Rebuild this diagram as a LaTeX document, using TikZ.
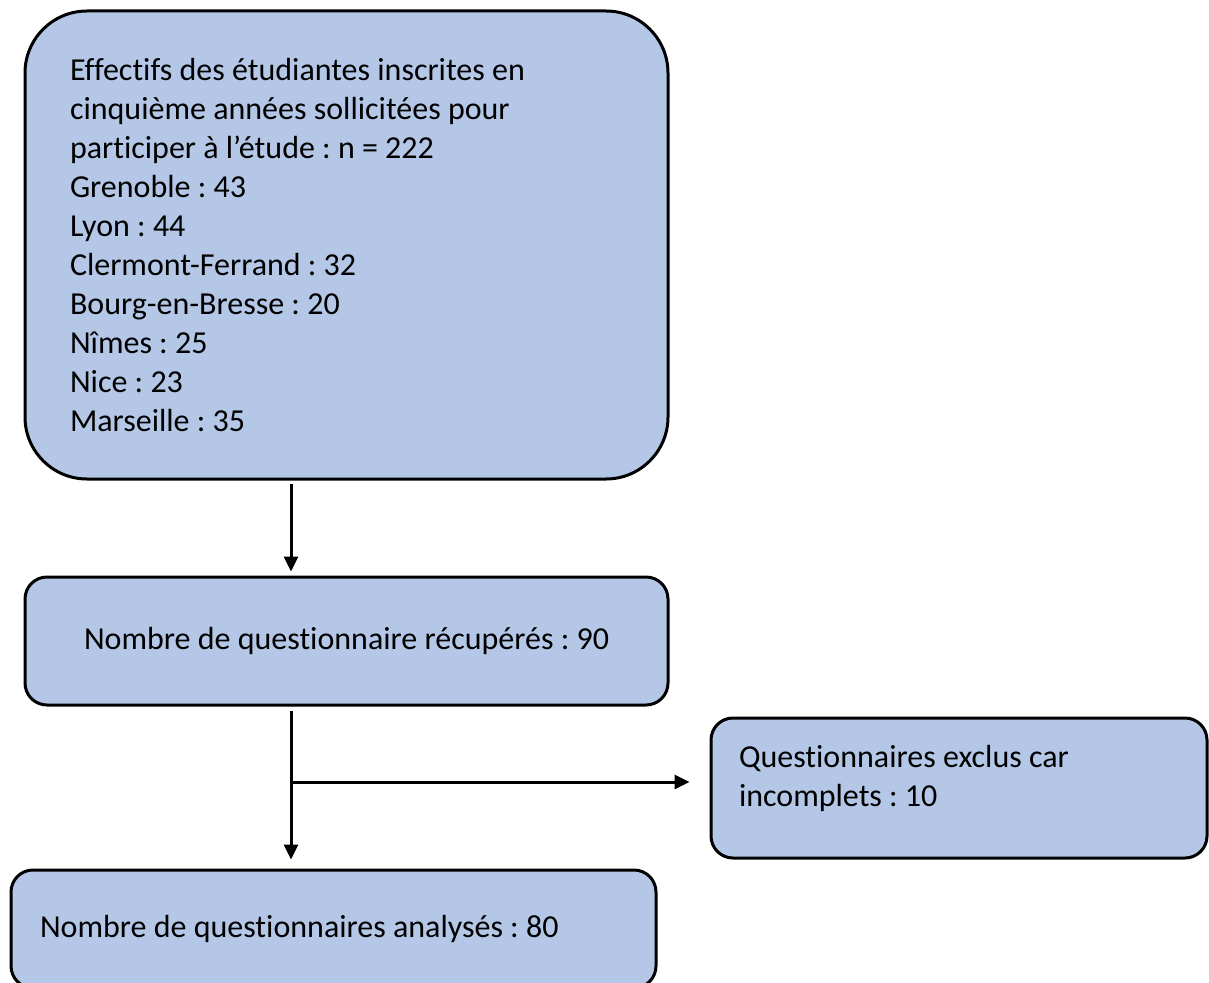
\documentclass[tikz,border=0pt]{standalone}
\usepackage{fontspec}
\setmainfont{Carlito}[Ligatures=NoCommon]
\frenchspacing
\usetikzlibrary{arrows.meta,calc}
\definecolor{boxblue}{RGB}{180,199,231}
\tikzset{
  flowbox/.style={draw=black, fill=boxblue, line width=3pt, inner sep=0pt},
  flowtext/.style={font=\fontsize{32}{39}\selectfont},
  arr/.style={line width=3pt, -{Triangle[length=15pt,width=14pt]}},
  plain/.style={line width=3pt}
}
\begin{document}
\begin{tikzpicture}[x=1pt,y=-1pt]
\useasboundingbox (0,0) rectangle (1209,982);
\node[flowbox, rounded corners=62pt, minimum width=643pt, minimum height=468pt,
      text width=553pt, align=flush left, flowtext] (b1) at (346.5,245)
  {Effectifs des étudiantes inscrites en\\
   cinquième années sollicitées pour\\
   participer à l’étude : n = 222\\
   Grenoble : 43\\
   Lyon : 44\\
   Clermont-Ferrand : 32\\
   Bourg-en-Bresse : 20\\
   Nîmes : 25\\
   Nice : 23\\
   Marseille : 35};
\node[flowbox, rounded corners=22pt, minimum width=643pt, minimum height=128pt,
      align=center, flowtext] (b2) at (346.5,641)
  {Nombre de questionnaire récupérés : 90};
\node[flowbox, rounded corners=22pt, minimum width=496pt, minimum height=140pt,
      text width=440pt, align=flush left, flowtext] (b3) at (959,788)
  {Questionnaires exclus car\\incomplets : 10\\[-14pt]\mbox{}};
\node[flowbox, rounded corners=22pt, minimum width=645pt, minimum height=118pt,
      text width=587pt, align=flush left, flowtext] (b4) at (333.5,929)
  {Nombre de questionnaires analysés : 80};
\coordinate (ax) at (291,0);
\coordinate (j) at (291,782);
\draw[arr, shorten <=3pt, shorten >=4pt] (b1.south -| ax) -- (b2.north -| ax);
\draw[arr, shorten <=4pt, shorten >=9pt] (b2.south -| ax) -- (b4.north -| ax);
\draw[arr, shorten >=20pt] (j) -- (j -| b3.west);
\end{tikzpicture}
\end{document}
